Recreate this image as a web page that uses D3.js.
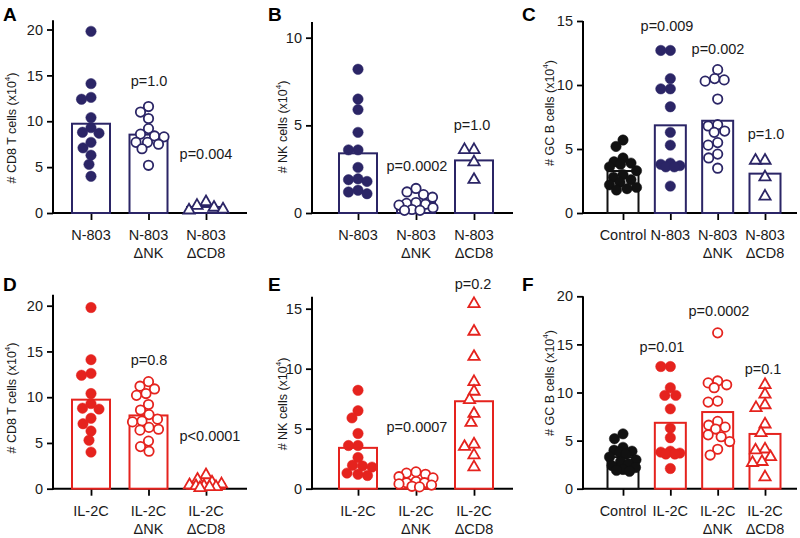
<!DOCTYPE html>
<html><head><meta charset="utf-8">
<script src="https://cdn.jsdelivr.net/npm/d3@7"></script>
<style>
body{margin:0;background:#fff}
svg{display:block;font-family:"Liberation Sans",Arial,Helvetica,sans-serif}
</style>
</head><body>
<svg id="chart" width="800" height="538"></svg>
<script>
// ---------------- DATA ----------------
const catsN803 = [["N-803"], ["N-803", "ΔNK"], ["N-803", "ΔCD8"]];
const catsN803C = [["Control"], ["N-803"], ["N-803", "ΔNK"], ["N-803", "ΔCD8"]];
const catsIL2C = [["IL-2C"], ["IL-2C", "ΔNK"], ["IL-2C", "ΔCD8"]];
const catsIL2CC = [["Control"], ["IL-2C"], ["IL-2C", "ΔNK"], ["IL-2C", "ΔCD8"]];

// Panel A: CD8 T cells
const aN803 = [19.8, 14.1, 12.6, 12.4, 10.4, 9.3, 8.8, 8.7, 7.7, 7.1, 6.3, 5.3, 4.0];
const aN803dNK = [11.6, 11.0, 10.3, 9.2, 8.6, 8.4, 8.3, 7.7, 7.7, 7.5, 7.0, 5.2];
const aN803dCD8 = [1.2, 0.8, 0.6, 0.4, 0.3];
const pA = ["", "p=1.0", "p=0.004"];

// Panel B: NK cells
const bN803 = [8.2, 6.5, 5.9, 4.6, 3.6, 3.6, 2.6, 1.95, 1.9, 1.8, 1.3, 1.2, 1.1];
const bN803dNK = [1.4, 1.2, 1.05, 0.9, 0.6, 0.55, 0.5, 0.45, 0.3, 0.2, 0.15, 0.15];
const bN803dCD8 = [3.6, 3.6, 2.9, 1.9];
const pB = ["", "p=0.0002", "p=1.0"];

// Panel C: GC B cells
const cControl = [5.7, 5.2, 4.3, 4.0, 3.9, 3.8, 3.6, 3.3, 3.0, 2.8, 2.6, 2.4, 2.2, 2.0, 1.9, 1.8];
const cN803 = [12.7, 12.7, 10.5, 9.7, 9.7, 8.3, 6.3, 5.3, 3.9, 3.8, 3.7, 3.6, 3.6, 2.1];
const cN803dNK = [11.2, 10.5, 10.4, 10.3, 8.9, 6.9, 6.8, 6.4, 6.3, 5.5, 5.3, 4.6, 4.3, 3.5];
const cN803dCD8 = [4.1, 4.1, 2.8, 1.3];
const pC = ["", "p=0.009", "p=0.002", "p=1.0"];

// Panel D: CD8 T cells
const dIL2C = [19.8, 14.1, 12.6, 12.4, 10.4, 9.3, 8.8, 8.7, 7.7, 7.1, 6.3, 5.3, 4.0];
const dIL2CdNK = [11.7, 11.2, 10.9, 10.4, 10.2, 9.2, 8.6, 8.1, 7.6, 7.4, 7.3, 6.7, 6.5, 6.4, 5.2, 4.6, 4.1];
const dIL2CdCD8 = [1.5, 1.0, 0.7, 0.5, 0.4, 0.3, 0.3, 0.2, 0.2, 0.1];
const pD = ["", "p=0.8", "p<0.0001"];

// Panel E: NK cells
const eIL2C = [8.2, 6.5, 5.9, 4.6, 3.6, 3.6, 2.6, 1.95, 1.9, 1.8, 1.3, 1.2, 1.1];
const eIL2CdNK = [1.4, 1.3, 1.2, 1.0, 0.9, 0.6, 0.5, 0.5, 0.4, 0.3, 0.2, 0.15];
const eIL2CdCD8 = [15.4, 13.1, 11.0, 8.9, 8.1, 7.4, 6.25, 5.5, 3.7, 3.5, 2.8, 1.8];
const pE = ["", "p=0.0007", "p=0.2"];

// Panel F: GC B cells
const fControl = [5.7, 5.2, 4.3, 4.0, 3.9, 3.8, 3.6, 3.3, 3.0, 2.8, 2.6, 2.4, 2.2, 2.0, 1.9, 1.8];
const fIL2C = [12.7, 12.7, 10.5, 9.7, 9.7, 8.3, 6.3, 5.3, 3.9, 3.8, 3.7, 3.6, 3.6, 2.1];
const fIL2CdNK = [16.2, 11.2, 11.0, 10.8, 10.5, 9.1, 9.0, 7.0, 6.6, 6.4, 6.2, 5.6, 5.4, 4.9, 4.1, 3.5];
const fIL2CdCD8 = [10.8, 9.8, 8.7, 8.4, 6.7, 5.8, 4.1, 4.0, 3.3, 2.8, 2.7, 1.2];
const pF = ["", "p=0.01", "p=0.0002", "p=0.1"];

const ticks20 = [0, 5, 10, 15, 20];
const ticks15 = [0, 5, 10, 15];
const ticks10 = [0, 5, 10];

// ---------------- STYLE / LAYOUT ----------------
const NAVY = "#2b2566", RED = "#e5231e", BLACK = "#111111";
const FONT = 14.5;

const panels = [
  {letter: "A", lx: 3, ly: 21, ylab: "# CD8 T cells (x10", ylx: 12, yly: 128,
   axL: 53, axR: 247, c0: 91, c1: 206, y0: 213, tMax: 20, tMaxPx: 29.5, axTop: 21, ticks: ticks20, barW: 38,
   cats: catsN803, colors: [NAVY, NAVY, NAVY], marks: ["fill", "open", "tri"],
   data: [aN803, aN803dNK, aN803dCD8], p: pA, pPos: [null, [149, 86], [206, 159]], xl1: 240},
  {letter: "B", lx: 268, ly: 21, ylab: "# NK cells (x10", ylx: 283, yly: 127,
   axL: 312, axR: 513, c0: 358, c1: 474, y0: 213, tMax: 10, tMaxPx: 37.7, axTop: 10.9, ticks: ticks10, barW: 38,
   cats: catsN803, colors: [NAVY, NAVY, NAVY], marks: ["fill", "open", "tri"],
   data: [bN803, bN803dNK, bN803dCD8], p: pB, pPos: [null, [417, 171], [472, 130]], xl1: 240},
  {letter: "C", lx: 522, ly: 21, ylab: "# GC B cells (x10", ylx: 550, yly: 113,
   axL: 583, axR: 797, c0: 623, c1: 765, y0: 213, tMax: 15, tMaxPx: 21, axTop: 15, ticks: ticks15, barW: 31,
   cats: catsN803C, colors: [BLACK, NAVY, NAVY, NAVY], marks: ["fill", "fill", "open", "tri"],
   data: [cControl, cN803, cN803dNK, cN803dCD8], p: pC, pPos: [null, [667, 31], [718, 54], [766, 139]], xl1: 240},
  {letter: "D", lx: 3, ly: 291, ylab: "# CD8 T cells (x10", ylx: 12, yly: 398,
   axL: 53, axR: 247, c0: 91, c1: 206, y0: 488.7, tMax: 20, tMaxPx: 305.7, axTop: 21.2, ticks: ticks20, barW: 38,
   cats: catsIL2C, colors: [RED, RED, RED], marks: ["fill", "open", "tri"],
   data: [dIL2C, dIL2CdNK, dIL2CdCD8], p: pD, pPos: [null, [149, 365], [210, 441]], xl1: 516},
  {letter: "E", lx: 268, ly: 291, ylab: "# NK cells (x10", ylx: 283, yly: 404,
   axL: 312, axR: 513, c0: 358, c1: 474, y0: 488.7, tMax: 15, tMaxPx: 308.7, axTop: 16, ticks: ticks15, barW: 38,
   cats: catsIL2C, colors: [RED, RED, RED], marks: ["fill", "open", "tri"],
   data: [eIL2C, eIL2CdNK, eIL2CdCD8], p: pE, pPos: [null, [417, 432], [473, 289]], xl1: 516},
  {letter: "F", lx: 522, ly: 291, ylab: "# GC B cells (x10", ylx: 550, yly: 383,
   axL: 583, axR: 797, c0: 623, c1: 765, y0: 488.7, tMax: 20, tMaxPx: 296.3, axTop: 20, ticks: ticks20, barW: 31,
   cats: catsIL2CC, colors: [BLACK, RED, RED, RED], marks: ["fill", "fill", "open", "tri"],
   data: [fControl, fIL2C, fIL2CdNK, fIL2CdCD8], p: pF, pPos: [null, [662, 352], [719, 316], [763, 374]], xl1: 516}
];

const svg = d3.select("#chart");
const R = 5.2;

// deterministic beeswarm, constrained to the bar width (overlap allowed when crowded)
function swarm(values, y, r, maxOff) {
  const pts = values.map(v => ({v, y: y(v), dx: 0}));
  const order = pts.slice().sort((a, b) => b.v - a.v);
  const placed = [];
  const minD = 2 * r * 0.9;
  order.forEach(p => {
    let best = 0, bestScore = -Infinity;
    for (let k = 0; k < 400; k++) {
      const off = (k % 2 === 0 ? 1 : -1) * Math.ceil(k / 2) * 0.5;
      if (Math.abs(off) > maxOff) break;
      const dmin = placed.length ? d3.min(placed, q => Math.hypot(q.dx - off, q.y - p.y)) : Infinity;
      if (dmin >= minD) { best = off; bestScore = Infinity; break; }
      if (dmin > bestScore + 0.01) { bestScore = dmin; best = off; }
    }
    p.dx = best;
    placed.push(p);
  });
  return pts;
}

panels.forEach(P => {
  const g = svg.append("g");
  const keys = P.cats.map(c => c.join(" "));
  const x = d3.scalePoint().domain(keys).range([P.c0, P.c1]);
  const y = d3.scaleLinear().domain([0, P.tMax]).range([P.y0, P.tMaxPx]);

  g.append("text").attr("x", P.lx).attr("y", P.ly).attr("font-size", 19).attr("font-weight", "bold")
    .attr("fill", "#000").text(P.letter);

  const ya = g.append("g").attr("transform", `translate(${P.axL},0)`)
    .call(d3.axisLeft(y).tickValues(P.ticks).tickSize(6).tickPadding(4).tickSizeOuter(0).tickFormat(d3.format("d")));
  ya.select(".domain").remove();
  ya.selectAll(".tick line").attr("stroke", "#000").attr("stroke-width", 1.8);
  ya.selectAll(".tick text").attr("font-size", FONT).attr("font-family", null).attr("fill", "#1a1a1a");
  g.append("line").attr("x1", P.axL).attr("x2", P.axL).attr("y1", y(P.axTop)).attr("y2", P.y0 + 1)
    .attr("stroke", "#000").attr("stroke-width", 2);

  const yl = g.append("text").attr("transform", `translate(${P.ylx},${P.yly}) rotate(-90)`)
    .attr("text-anchor", "middle").attr("dominant-baseline", "central").attr("font-size", 12.5).attr("fill", "#1a1a1a");
  yl.append("tspan").text(P.ylab);
  yl.append("tspan").attr("font-size", 8).attr("dy", -5).text("4");
  yl.append("tspan").attr("dy", 5).text(")");

  const xa = g.append("g").attr("transform", `translate(0,${P.y0})`)
    .call(d3.axisBottom(x).tickSize(7).tickSizeOuter(0).tickFormat(""));
  xa.select(".domain").remove();
  xa.selectAll(".tick line").attr("stroke", "#000").attr("stroke-width", 1.8);
  g.append("line").attr("x1", P.axL - 1).attr("x2", P.axR).attr("y1", P.y0).attr("y2", P.y0)
    .attr("stroke", "#000").attr("stroke-width", 2);

  P.cats.forEach((c, i) => {
    const t = g.append("text").attr("x", x(keys[i])).attr("y", P.xl1).attr("text-anchor", "middle")
      .attr("font-size", FONT).attr("fill", "#1a1a1a");
    c.forEach((line, j) => t.append("tspan").attr("x", x(keys[i])).attr("dy", j === 0 ? 0 : 17.5).text(line));
  });

  P.data.forEach((vals, i) => {
    const m = d3.mean(vals);
    g.append("rect").attr("x", x(keys[i]) - P.barW / 2).attr("width", P.barW)
      .attr("y", y(m)).attr("height", P.y0 - y(m))
      .attr("fill", "#fff").attr("stroke", P.colors[i]).attr("stroke-width", 2);
  });

  P.data.forEach((vals, i) => {
    const col = P.colors[i];
    const pts = swarm(vals, y, R, P.barW / 2 - 2);
    const cx = x(keys[i]);
    if (P.marks[i] === "tri") {
      const sym = d3.symbol(d3.symbolTriangle, 55);
      g.selectAll(null).data(pts).join("path")
        .attr("d", sym).attr("transform", d => `translate(${cx + d.dx},${d.y})`)
        .attr("fill", "#fff").attr("stroke", col).attr("stroke-width", 1.8);
    } else {
      g.selectAll(null).data(pts).join("circle")
        .attr("cx", d => cx + d.dx).attr("cy", d => d.y).attr("r", P.marks[i] === "open" ? R - 0.5 : R)
        .attr("fill", P.marks[i] === "open" ? "#fff" : col)
        .attr("stroke", col).attr("stroke-width", P.marks[i] === "open" ? 1.8 : 0.5);
    }
  });

  P.p.forEach((txt, i) => {
    if (!txt) return;
    g.append("text").attr("x", P.pPos[i][0]).attr("y", P.pPos[i][1]).attr("text-anchor", "middle")
      .attr("font-size", FONT).attr("fill", "#1a1a1a").text(txt);
  });
});
</script>
</body></html>
